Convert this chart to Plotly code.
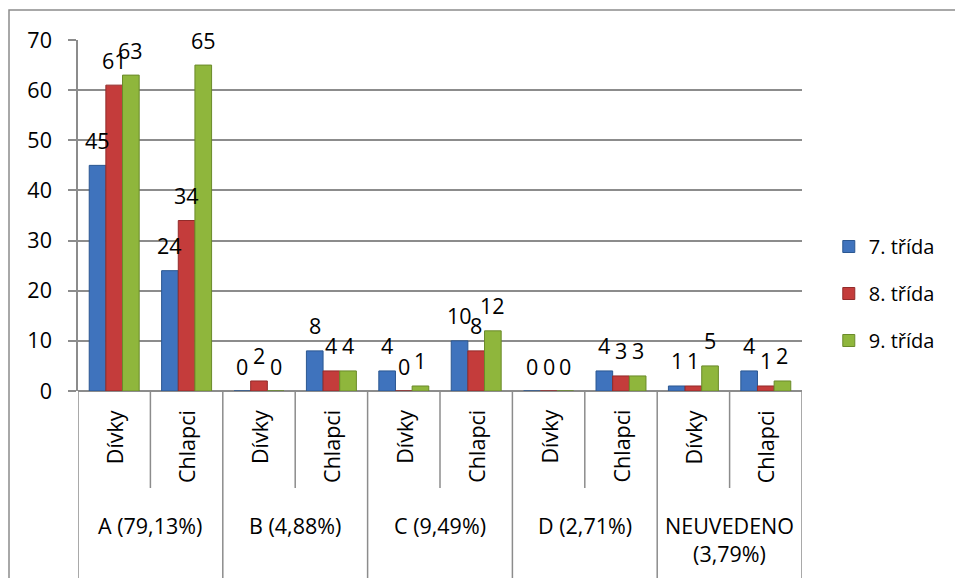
import plotly.graph_objects as go

groups = ["A (79,13%)", "B (4,88%)", "C (9,49%)", "D (2,71%)", "NEUVEDENO<br>(3,79%)"]
subgroups = ["Dívky", "Chlapci"]
series_names = ["7. třída", "8. třída", "9. třída"]
s7 = [45, 24, 0, 8, 4, 10, 0, 4, 1, 4]
s8 = [61, 34, 2, 4, 0, 8, 0, 3, 1, 1]
s9 = [63, 65, 0, 4, 1, 12, 0, 3, 5, 2]
colors = ["#3f73bd", "#c43c3b", "#8fb63c"]
edge = ["#2b5791", "#922b2a", "#6a8a2a"]
yticks = [0, 10, 20, 30, 40, 50, 60, 70]

W, H = 955, 578
L, R, T, B = 78, 153, 40, 187
ph = H - T - B

def py(pix):
    return (H - B - pix) / ph

xs = list(range(len(groups) * len(subgroups)))
FONT = "Open Sans"
FS = 21.5
BARGAP = 0.31

fig = go.Figure()
all_series = [s7, s8, s9]
for i, (name, vals) in enumerate(zip(series_names, all_series)):
    fig.add_trace(go.Bar(
        x=xs, y=vals, name=name,
        marker=dict(color=colors[i], line=dict(color=edge[i], width=1)),
        cliponaxis=False, legendgroup=name,
    ))

shapes = []
annotations = []
n = len(xs)
# data labels, placed at each bar's position on the library's axes
ns = len(all_series)
bw = (1 - BARGAP) / ns
for i, vals in enumerate(all_series):
    for k, v in enumerate(vals):
        annotations.append(dict(x=xs[k] + (i - (ns - 1) / 2) * bw, y=v,
                                xref="x", yref="y", text=str(v), showarrow=False,
                                xanchor="center", yanchor="middle", yshift=25,
                                font=dict(size=FS, family=FONT, color="black")))
for k in range(n + 1):
    xv = k - 0.5
    is_group = (k % len(subgroups) == 0)
    shapes.append(dict(type="line", xref="x", yref="paper", x0=xv, x1=xv,
                       y0=py(H + 5) if is_group else py(488), y1=0,
                       line=dict(color="#8c8c8c", width=1.5)))
for k, xv in enumerate(xs):
    annotations.append(dict(x=xv, y=py(408), xref="x", yref="paper",
                            text=subgroups[k % len(subgroups)], textangle=-90,
                            xanchor="center", yanchor="top", showarrow=False,
                            font=dict(size=FS, family=FONT, color="black")))
for g, name in enumerate(groups):
    xc = g * len(subgroups) + (len(subgroups) - 1) / 2
    annotations.append(dict(x=xc, y=py(509), xref="x", yref="paper",
                            text=name, xanchor="center", yanchor="top",
                            showarrow=False,
                            font=dict(size=FS, family=FONT, color="black")))
# outer chart border (right and bottom edges lie outside the view)
shapes.append(dict(type="rect", xref="paper", yref="paper",
                   x0=(9 - L) / (W - L - R), x1=(W + 10 - L) / (W - L - R),
                   y0=py(H + 5), y1=py(10),
                   line=dict(color="#8c8c8c", width=1.5)))
fig.update_layout(
    width=W, height=H,
    margin=dict(l=L, r=R, t=T, b=B, pad=0),
    paper_bgcolor="white", plot_bgcolor="white",
    barmode="group", bargap=BARGAP, bargroupgap=0,
    shapes=shapes, annotations=annotations,
    showlegend=True,
    legend=dict(x=1.037, y=py(227), xanchor="left", yanchor="top",
                font=dict(size=20, family=FONT, color="black"),
                tracegroupgap=18, traceorder="grouped", itemwidth=30),
    font=dict(family=FONT),
)
fig.update_xaxes(range=[-0.5, n - 0.5], showticklabels=False, showgrid=False,
                 zeroline=False, showline=False, fixedrange=True)
fig.update_yaxes(range=[0, 70], tickvals=yticks, showgrid=True,
                 gridcolor="#8c8c8c", gridwidth=1.5, zeroline=True,
                 zerolinecolor="#8c8c8c", zerolinewidth=1.5,
                 showline=True, linecolor="#8c8c8c", linewidth=1.5,
                 ticks="outside", ticklen=8, tickcolor="#8c8c8c", tickwidth=1.5,
                 tickfont=dict(size=FS, family=FONT, color="black"), ticklabelstandoff=12)
fig.write_html("out.html", post_script="document.body.style.margin='0';",
               config={"displayModeBar": False})
